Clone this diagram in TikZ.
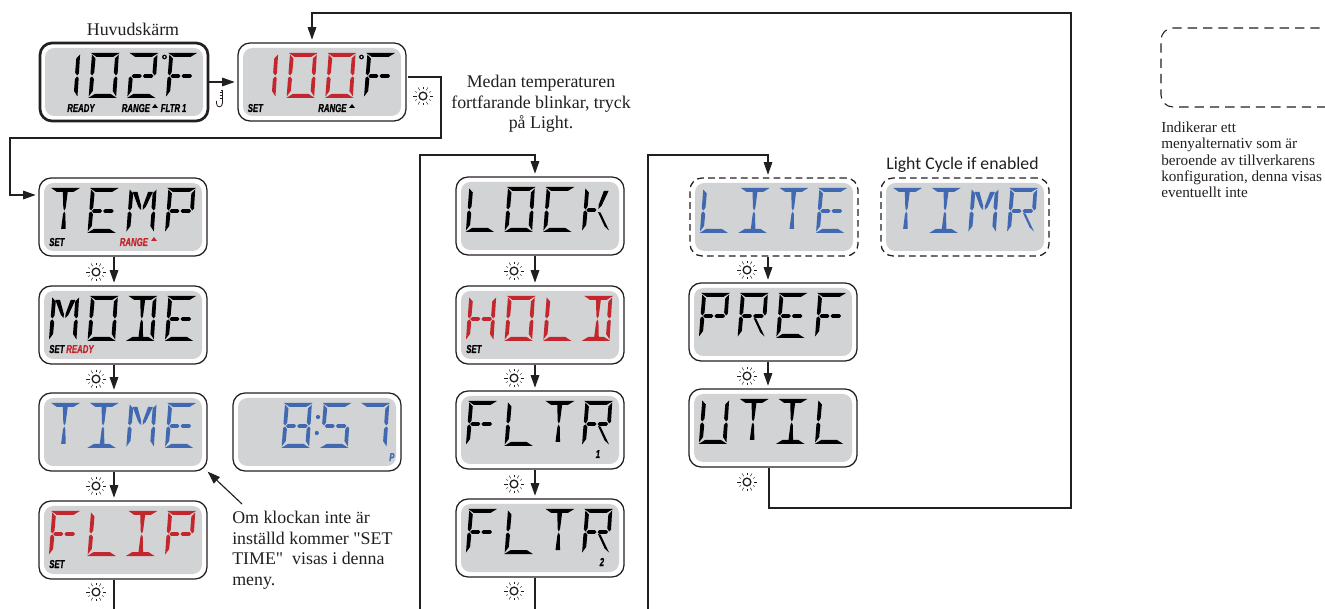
\documentclass[tikz,border=0pt]{standalone}
\usepackage{fontspec}
\setmainfont[Ligatures=TeXOff]{Liberation Serif}
\newfontfamily\lcdfont[FakeStretch=0.68,FakeBold=0.7]{Liberation Sans}
\newfontfamily\sansf{Carlito}
\usetikzlibrary{arrows.meta}
\definecolor{lcdgray}{HTML}{D1D3D4}
\definecolor{lcdred}{HTML}{C4262E}
\definecolor{lcdblue}{HTML}{4169B2}
\definecolor{ink}{HTML}{231F20}
\tikzset{
 x=0.75pt,y=-0.75pt,
 panel/.style={draw=ink,line width=0.95pt,fill=white,rounded corners=9pt,minimum width=126pt,minimum height=58.5pt,inner sep=0pt},
 mainpanel/.style={panel,line width=2pt},
 dashpanel/.style={panel,draw=ink,dash pattern=on 5pt off 3.2pt},
 lcdscreen/.style={fill=lcdgray,rounded corners=7pt,minimum width=118.5pt,minimum height=51pt,inner sep=0pt},
 conn/.style={draw=ink,line width=0.85pt},
 arr/.style={conn,-{Triangle[length=9.5pt,width=6.5pt]},shorten >=2pt},
 note/.style={font=\fontsize{13.4pt}{15.4pt}\selectfont,text=ink,align=left,inner sep=0pt},
 lcdlabel/.style={font=\lcdfont\bfseries\itshape\fontsize{8.6pt}{9pt}\selectfont,inner sep=0pt,anchor=base west},
}
% --- segments, cell coordinates in px, y downward, slanted
\newcommand{\sA}{\fill (0.5,0)--(27.5,0)--(21.5,4)--(6,4)--cycle;}
\newcommand{\sD}{\fill (0,45)--(27,45)--(21,41)--(6,41)--cycle;}
\newcommand{\sF}{\fill (1.5,1.5)--(5,5.5)--(4.5,19.5)--(2.7,22.5)--(1,20.5)--cycle;}
\newcommand{\sE}{\fill (0.8,25)--(2.7,23.5)--(4.5,26)--(4,38)--(0.4,43.5)--cycle;}
\newcommand{\sB}{\fill (26.8,1.5)--(26.6,20.5)--(25,22.5)--(23,19.5)--(23.4,5.5)--cycle;}
\newcommand{\sC}{\fill (25,23.5)--(26.6,25)--(26.3,43.5)--(22.8,38)--(23.1,26)--cycle;}
\newcommand{\sG}{\fill (5,21.2)--(11.5,21.2)--(13,23)--(11.5,24.8)--(5,24.8)--(3.4,23)--cycle;}
\newcommand{\sN}{\fill (15.5,21.2)--(22.5,21.2)--(24,23)--(22.5,24.8)--(15.5,24.8)--(14,23)--cycle;}
\newcommand{\sH}{\fill (11.6,4)--(16.2,4)--(15,20)--(13.9,22.5)--(12.8,20)--cycle;}
\newcommand{\sI}{\fill (13.9,23.5)--(15,26)--(16,41)--(11.7,41)--(12.8,26)--cycle;}
\newcommand{\sJ}{\fill (4.5,4)--(9,4)--(13.2,18)--(13.2,22)--(10.5,19)--cycle;}
\newcommand{\sK}{\fill (23.5,4)--(19,4)--(14.8,18)--(14.8,22)--(17.5,19)--cycle;}
\newcommand{\sL}{\fill (14.5,25)--(17,25.6)--(25.8,43.5)--(21.5,39.5)--cycle;}
% --- glyphs
\newcommand{\gT}{\sA\sH\sI}
\newcommand{\gE}{\sA\sF\sE\sD\sG\sN}
\newcommand{\gM}{\sF\sE\sB\sC\sJ\sK}
\newcommand{\gP}{\sA\sF\sE\sB\sG\sN}
\newcommand{\gO}{\sA\sB\sC\sD\sE\sF}
\newcommand{\gD}{\sA\sB\sC\sD\sH\sI}
\newcommand{\gI}{\sA\sD\sH\sI}
\newcommand{\gF}{\sA\sF\sE\sG\sN}
\newcommand{\gL}{\sF\sE\sD}
\newcommand{\gC}{\sA\sF\sE\sD}
\newcommand{\gK}{\sF\sE\sG\sK\sL}
\newcommand{\gH}{\sF\sE\sB\sC\sG\sN}
\newcommand{\gR}{\sA\sF\sE\sB\sG\sN\sL}
\newcommand{\gU}{\sF\sE\sB\sC\sD}
\newcommand{\gS}{\sA\sF\sG\sN\sC\sD}
\newcommand{\gSeven}{\sA\sB\sC}
\newcommand{\gEight}{\sA\sB\sC\sD\sE\sF\sG\sN}
\newcommand{\gOne}{\sB\sC}
\newcommand{\gTwo}{\sA\sB\sG\sN\sE\sD}
\newcommand{\gBlank}{}
% \lcdcell{left}{top}{cell}{colour}{glyph}
\newcommand{\lcdcell}[5]{\begin{scope}[shift={({#1+9.5+38.7*#3},{#2+10})},xslant=0.05,shift={(2.25,0)},xscale=1.06,fill=#4]#5\end{scope}}
\newcommand{\lcdpanel}[4]{%
 \node[#4] (#1) at ({#2+84},{#3+39}) {};
 \node[lcdscreen] (#1s) at (#1.center) {};}
\newcommand{\lcdword}[6]{%
 \lcdcell{#1}{#2}{0}{#3}{#4}\lcdcell{#1}{#2}{1}{#3}{#5}\lcdcell{#1}{#2}{2}{#3}{#6}}
% sun icon
\newcommand{\sunicon}[2]{%
 \begin{scope}[shift={(#1)}]
 \node[circle,draw=ink,line width=1pt,minimum size=5.8pt,inner sep=0pt] (#2) at (0,0) {};
 \foreach \a in {0,60,...,300}{\draw[ink,line width=0.35pt] (\a:6.5) -- (\a:9.8);}
 \foreach \a in {30,90,...,330}{\draw[ink,line width=0.35pt] (\a:7) -- (\a:9);}
 \end{scope}}
\begin{document}
\begin{tikzpicture}
\useasboundingbox (0,0) rectangle (1325,609);
\fill[white] (0,0) rectangle (1325,609);

% panels
\lcdpanel{main}{40}{43}{mainpanel}
\lcdpanel{set}{238}{43}{panel}
\lcdpanel{temp}{39}{178}{panel}
\lcdpanel{mode}{39}{286}{panel}
\lcdpanel{time}{39}{393}{panel}
\lcdpanel{clock}{233}{393}{panel}
\lcdpanel{flip}{39}{501}{panel}
\lcdpanel{lock}{456}{177}{panel}
\lcdpanel{hold}{456}{286}{panel}
\lcdpanel{fltra}{456}{391}{panel}
\lcdpanel{fltrb}{456}{499}{panel}
\lcdpanel{lite}{690}{178}{dashpanel}
\lcdpanel{timr}{881}{178}{dashpanel}
\lcdpanel{pref}{689}{283}{panel}
\lcdpanel{util}{689}{389}{panel}

% glyphs
\lcdword{40}{43}{black}{\gOne}{\gO}{\gTwo}\lcdcell{40}{43}{3}{black}{\gF}
\fill[black] (164.5,57) circle[radius=2.4]; \fill[lcdgray] (164.5,57) circle[radius=1.2];
\lcdword{238}{43}{lcdred}{\gOne}{\gO}{\gO}\lcdcell{238}{43}{3}{black}{\gF}
\fill[black] (361.5,57) circle[radius=2.4]; \fill[lcdgray] (361.5,57) circle[radius=1.2];
\lcdword{39}{178}{black}{\gT}{\gE}{\gM}\lcdcell{39}{178}{3}{black}{\gP}
\lcdword{39}{286}{black}{\gM}{\gO}{\gD}\lcdcell{39}{286}{3}{black}{\gE}
\lcdword{39}{393}{lcdblue}{\gT}{\gI}{\gM}\lcdcell{39}{393}{3}{lcdblue}{\gE}
\lcdword{233}{393}{lcdblue}{\gBlank}{\gEight}{\gS}\lcdcell{233}{393}{3}{lcdblue}{\gSeven}
\fill[lcdblue] (318,417) circle[radius=2.1] (316.8,433) circle[radius=2.1];
\lcdword{39}{501}{lcdred}{\gF}{\gL}{\gI}\lcdcell{39}{501}{3}{lcdred}{\gP}
\lcdword{456}{177}{black}{\gL}{\gO}{\gC}\lcdcell{456}{177}{3}{black}{\gK}
\lcdword{456}{286}{lcdred}{\gH}{\gO}{\gL}\lcdcell{456}{286}{3}{lcdred}{\gD}
\lcdword{456}{391}{black}{\gF}{\gL}{\gT}\lcdcell{456}{391}{3}{black}{\gR}
\lcdword{456}{499}{black}{\gF}{\gL}{\gT}\lcdcell{456}{499}{3}{black}{\gR}
\lcdword{690}{178}{lcdblue}{\gL}{\gI}{\gT}\lcdcell{690}{178}{3}{lcdblue}{\gE}
\lcdword{881}{178}{lcdblue}{\gT}{\gI}{\gM}\lcdcell{881}{178}{3}{lcdblue}{\gR}
\lcdword{689}{283}{black}{\gP}{\gR}{\gE}\lcdcell{689}{283}{3}{black}{\gF}
\lcdword{689}{389}{black}{\gU}{\gT}{\gI}\lcdcell{689}{389}{3}{black}{\gL}

% small LCD labels
\node[lcdlabel] (l1) at (67,112) {READY};
\node[lcdlabel] (l2) at (121.5,112) {RANGE};
\fill[black] (152,108)--(158,108)--(155,104)--cycle;
\node[lcdlabel] (l3) at (160.5,112) {FLTR\,1};
\node[lcdlabel] (l4) at (247.5,112) {SET};
\node[lcdlabel] (l5) at (318,112) {RANGE};
\fill[black] (349,108)--(355,108)--(352,104)--cycle;
\node[lcdlabel] (l6) at (49,246) {SET};
\node[lcdlabel,text=lcdred] (l7) at (119.5,246) {RANGE};
\fill[lcdred] (151,241)--(157,241)--(154,237)--cycle;
\node[lcdlabel] (l8) at (49,353) {SET};
\node[lcdlabel,text=lcdred] (l9) at (66,353) {READY};
\node[lcdlabel,text=lcdblue] (l10) at (389,461) {P};
\node[lcdlabel] (l11) at (49,568) {SET};
\node[lcdlabel] (l12) at (466,353) {SET};
\node[lcdlabel] (l13) at (595.5,458) {1};
\node[lcdlabel] (l14) at (599.5,566) {2};

% connectors
\coordinate (c1) at (408,77);
\draw[arr] (main.east) -- (set.west);
\draw[arr] (c1) -| (441,138) -| (10,195) -- (temp.west |- 0,195);
\draw[arr] (temp.south -| 114,0) -- (mode.north -| 114,0);
\draw[arr] (mode.south -| 114,0) -- (time.north -| 114,0);
\draw[arr] (time.south -| 114,0) -- (flip.north -| 114,0);
\coordinate (e1) at (114,609);
\draw[conn] (flip.south -| e1) -- (e1);
\draw[arr] (lock.south -| 535,0) -- (hold.north -| 535,0);
\draw[arr] (hold.south -| 535,0) -- (fltra.north -| 535,0);
\draw[arr] (fltra.south -| 535,0) -- (fltrb.north -| 535,0);
\coordinate (e2) at (535,609);
\draw[conn] (fltrb.south -| e2) -- (e2);
\coordinate (s1) at (420,609);
\draw[arr] (s1) |- (535,155) -- (lock.north -| 535,0);
\coordinate (s2) at (648,609);
\draw[arr] (s2) |- (768,155) -- (lite.north -| 768,0);
\draw[arr] (lite.south -| 768,0) -- (pref.north -| 768,0);
\draw[arr] (pref.south -| 768,0) -- (util.north -| 768,0);
\draw[arr] (util.south -| 769,0) |- (1071,508) |- (312,13) -- (set.north -| 312,0);
\coordinate (n1) at (242,504);
\draw[arr,shorten >=0pt] (n1) -- (time.south east);

% suns
\sunicon{423,96}{sa}
\sunicon{96,272}{sb}\sunicon{96,379}{sc}\sunicon{96,486}{sd}\sunicon{96,592}{se}
\sunicon{514,271}{sf}\sunicon{514,378}{sg}\sunicon{514,484}{sh}\sunicon{514,591}{si}
\sunicon{747,270}{sj}\sunicon{747,376}{sk}\sunicon{747,482}{sl}

% temperature icon
\draw[ink,line width=0.6pt] (221,90.5) -- (222.5,90.5) -- (222.5,103) .. controls (222.5,108) and (216.5,108) .. (216.5,103.5) -- (216.5,101);
\draw[ink,line width=0.5pt] (219.5,92.5) -- (222.5,92.5) (219.5,95.5) -- (222.5,95.5) (219.5,98.5) -- (222.5,98.5);

% texts
\node[note] (t1) at (133,29) {Huvudskärm};
\node[note,align=center] (t2) at (541,104) {Medan temperaturen\\fortfarande blinkar, tryck\\på Light.};
\node[note,anchor=north west] (t3) at (232,511) {Om klockan inte är\\inställd kommer "SET\\TIME"~ visas i denna\\meny.};
\node[note,font=\sansf\fontsize{13.3pt}{14pt}\selectfont] (t4) at (962.5,164.5) {Light Cycle if enabled};

% legend
\coordinate (lg) at (1335,28);
\draw[ink,line width=0.8pt,dash pattern=on 7pt off 4.5pt,rounded corners=9pt] (lg) -| (1161,107) -- (1335,107);
\node[note,anchor=north west,font=\fontsize{11.4pt}{12.1pt}\selectfont] (t5) at (1161,122) {Indikerar ett\\menyalternativ som är\\beroende av tillverkarens\\konfiguration, denna visas\\eventuellt inte};
\end{tikzpicture}
\end{document}
